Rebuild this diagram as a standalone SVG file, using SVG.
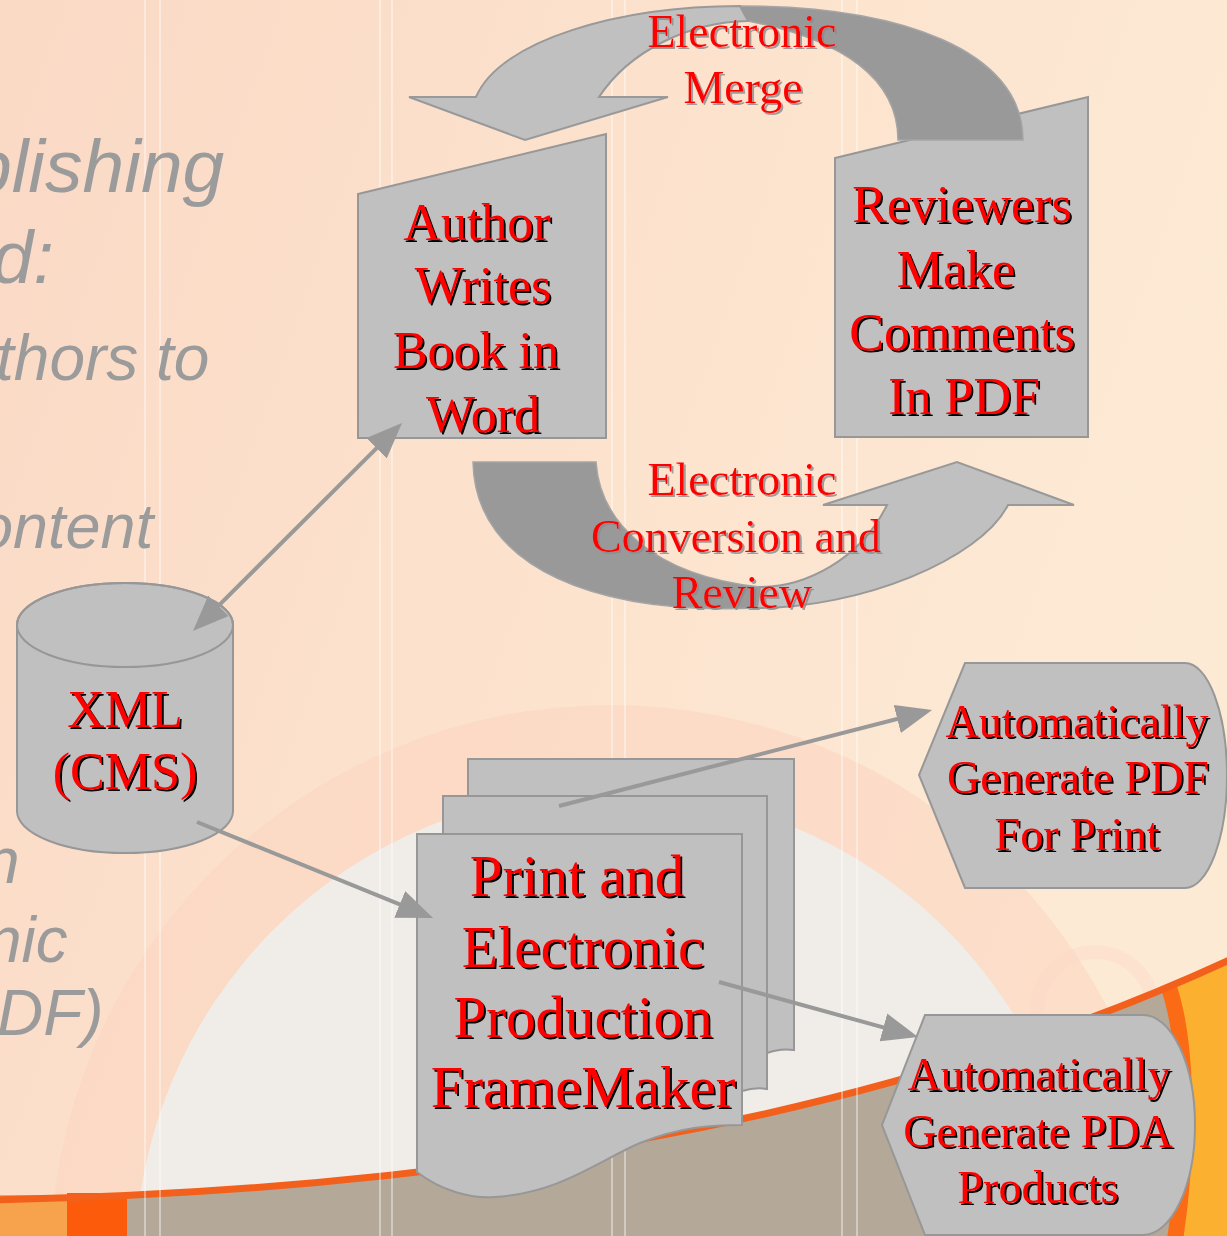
<svg xmlns="http://www.w3.org/2000/svg" width="1227" height="1236" viewBox="0 0 1227 1236">
<defs>
<linearGradient id="bgg" x1="0" y1="0" x2="1" y2="0.35">
<stop offset="0" stop-color="#fad9c5"/>
<stop offset="0.5" stop-color="#fce2cd"/>
<stop offset="1" stop-color="#fdead5"/>
</linearGradient>
<filter id="sh" x="-10%" y="-10%" width="130%" height="130%">
<feDropShadow dx="2" dy="2" stdDeviation="0.2" flood-color="#000" flood-opacity="1"/>
</filter>
<filter id="sh2" x="-10%" y="-10%" width="130%" height="130%">
<feDropShadow dx="2" dy="2" stdDeviation="0.4" flood-color="#8a8a8a" flood-opacity="0.8"/>
</filter>
<marker id="ah" viewBox="0 0 10 8" refX="8.3" refY="4" markerWidth="9" markerHeight="7.4" orient="auto-start-reverse">
<path d="M0,0 L10,4 L0,8 Z" fill="#999999"/>
</marker>
<style>
.node{fill:#c0c0c0;stroke:#979797;stroke-width:2}
.nt{font-family:"Liberation Serif","Times New Roman",serif;fill:#ff0000;text-anchor:middle;filter:url(#sh)}
.lb{font-family:"Liberation Serif","Times New Roman",serif;fill:#ff0000;text-anchor:middle;font-size:46px;filter:url(#sh2)}
.bgt{font-family:"Liberation Sans",Arial,sans-serif;font-style:italic;fill:#9b9b9b}
.vl{stroke:#ffffff;stroke-opacity:0.4;stroke-width:2}
.con{fill:none;stroke:#999999;stroke-width:4}
.ba-light{fill:#c0c0c0;stroke:#999999;stroke-width:2}
.ba-dark{fill:#999999;stroke:#a5a5a5;stroke-width:1.5}
</style>
</defs>

<g id="background">
<rect x="0" y="0" width="1227" height="1236" fill="url(#bgg)"/>
<circle cx="610" cy="1265" r="560" fill="#fcd6c2" fill-opacity="0.6"/>
<circle cx="610" cy="1265" r="475" fill="#f0ece8"/>
<circle cx="1095" cy="1010" r="58" fill="none" stroke="#fcd6c6" stroke-width="14" stroke-opacity="0.35"/>
<path d="M -10,1200 Q 750,1185 1240,955 L 1240,1240 L -10,1240 Z" fill="#b4a898"/>
<rect x="0" y="1195" width="67" height="41" fill="#f7a34e"/>
<rect x="67" y="1193" width="60" height="43" fill="#fd5b0c"/>
<path d="M 1168,985 C 1188,1040 1189,1150 1175,1240 L 1240,1240 L 1240,955 Z" fill="#fbb12f"/>
<path d="M 1168,985 C 1188,1040 1189,1150 1175,1240" fill="none" stroke="#fb6a14" stroke-width="16"/>
<path d="M -10,1200 Q 750,1185 1240,955" fill="none" stroke="#f2601c" stroke-width="7"/>
<line class="vl" x1="145" y1="0" x2="145" y2="1236"/>
<line class="vl" x1="160" y1="0" x2="160" y2="1236"/>
<line class="vl" x1="380" y1="0" x2="380" y2="1236"/>
<line class="vl" x1="392" y1="0" x2="392" y2="1236"/>
<line class="vl" x1="612" y1="0" x2="612" y2="1236"/>
<line class="vl" x1="625" y1="0" x2="625" y2="1236"/>
<line class="vl" x1="842" y1="0" x2="842" y2="1236"/>
<line class="vl" x1="857" y1="0" x2="857" y2="1236"/>
<text class="bgt" x="-30" y="192" font-size="75">blishing</text>
<text class="bgt" x="-8" y="283" font-size="74">d:</text>
<text class="bgt" x="-4" y="380" font-size="64">thors to</text>
<text class="bgt" x="-22" y="548" font-size="63">ontent</text>
<text class="bgt" x="-16" y="883" font-size="64">n</text>
<text class="bgt" x="-14" y="962" font-size="64">nic</text>
<text class="bgt" x="-3" y="1035" font-size="64">DF)</text>
</g>

<g id="node-author">
<polygon class="node" points="358,194 606,134 606,438 358,438"/>
<text class="nt" font-size="52"><tspan x="477" y="240">Author</tspan><tspan x="483" y="303">Writes</tspan><tspan x="476" y="368">Book in</tspan><tspan x="483" y="432">Word</tspan></text>
</g>

<g id="node-reviewers">
<polygon class="node" points="835,158 1088,97 1088,437 835,437"/>
<text class="nt" font-size="52"><tspan x="962" y="222">Reviewers</tspan><tspan x="956" y="287">Make</tspan><tspan x="962" y="350">Comments</tspan><tspan x="964" y="414">In PDF</tspan></text>
</g>

<g id="node-xml">
<path class="node" d="M17,625 A108,42 0 0 1 233,625 L233,811 A108,42 0 0 1 17,811 Z"/>
<ellipse cx="125" cy="625" rx="108" ry="42" fill="none" stroke="#979797" stroke-width="2"/>
<text class="nt" font-size="52"><tspan x="125" y="727">XML</tspan><tspan x="125" y="789">(CMS)</tspan></text>
</g>

<g id="node-production">
<path class="node" d="M468,759 H794 V1050 Q780,1048 767,1053 H468 Z"/>
<path class="node" d="M443,796 H767 V1089 Q755,1087 742,1091 H443 Z"/>
<path class="node" d="M417,834 H742 V1125 C710,1125 680,1127 640,1143 C600,1160 560,1193 495,1197 C470,1199 440,1190 417,1172 Z"/>
<text class="nt" font-size="59"><tspan x="577" y="896">Print and</tspan><tspan x="583" y="967">Electronic</tspan><tspan x="583" y="1037">Production</tspan><tspan x="583" y="1107">FrameMaker</tspan></text>
</g>

<g id="node-pdf">
<path class="node" d="M965,663 H1185 A42,112.5 0 0 1 1185,888 H965 L919,775 Z"/>
<text class="nt" font-size="46"><tspan x="1077" y="737">Automatically</tspan><tspan x="1078" y="793">Generate PDF</tspan><tspan x="1077" y="850">For Print</tspan></text>
</g>

<g id="node-pda">
<path class="node" d="M925,1015 H1143 A52,110 0 0 1 1143,1235 H925 L882,1125 Z"/>
<text class="nt" font-size="46"><tspan x="1039" y="1090">Automatically</tspan><tspan x="1038" y="1147">Generate PDA</tspan><tspan x="1038" y="1203">Products</tspan></text>
</g>

<g id="connectors">
<path class="ba-dark" d="M740,6 C900,6 1023,50 1023,140 L898,140 C898,80 845,40 748,21 Z"/>
<path class="ba-light" d="M740,6 C620,6 500,40 476,97 L409,97 L525,140 L668,97 L599,97 C630,50 690,22 748,21 Z"/>
<path class="ba-dark" d="M473,462 L596,462 C600,520 650,575 760,587 L757,608 C600,615 475,570 473,462 Z"/>
<path class="ba-light" d="M757,608 C860,608 980,560 1008,505 L1074,505 L957,462 L823,505 L887,505 C860,560 805,587 760,587 Z"/>
<line class="con" x1="197.3" y1="626.8" x2="397.7" y2="427.2" marker-start="url(#ah)" marker-end="url(#ah)"/>
<line class="con" x1="197" y1="822" x2="427.4" y2="915.7" marker-end="url(#ah)"/>
<line class="con" x1="559" y1="806" x2="926.2" y2="711.5" marker-end="url(#ah)"/>
<line class="con" x1="719" y1="982" x2="912.2" y2="1035.4" marker-end="url(#ah)"/>
<text class="lb"><tspan x="742" y="47">Electronic</tspan><tspan x="743" y="103">Merge</tspan></text>
<text class="lb"><tspan x="742" y="495">Electronic</tspan><tspan x="736" y="552">Conversion and</tspan><tspan x="742" y="608">Review</tspan></text>
</g>
</svg>
